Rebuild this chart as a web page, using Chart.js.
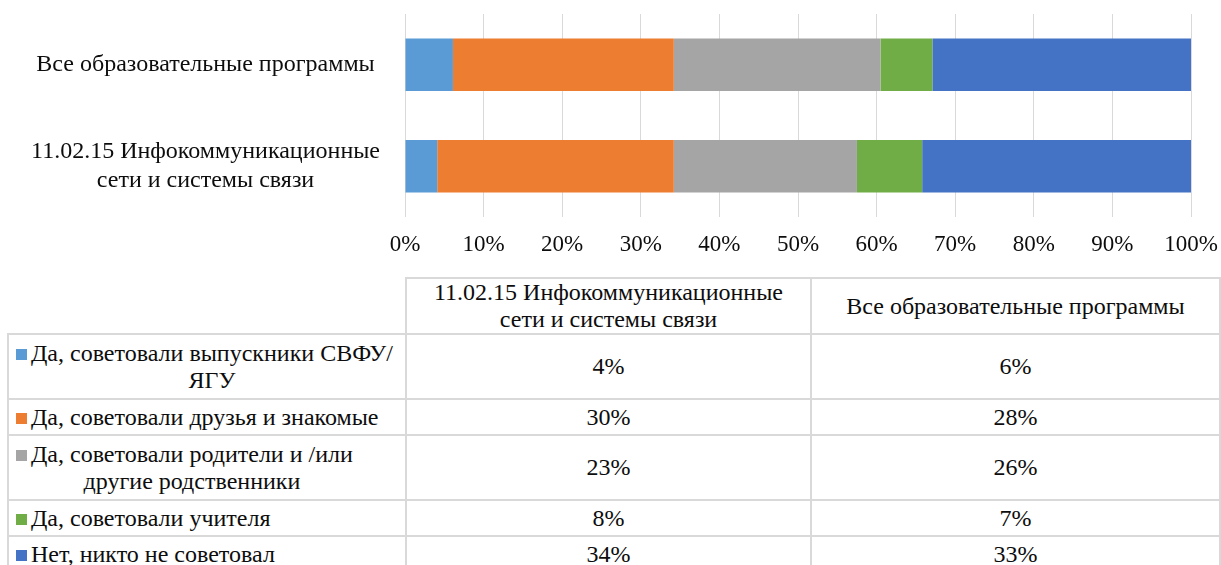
<!DOCTYPE html>
<html>
<head>
<meta charset="utf-8">
<script src="https://cdn.jsdelivr.net/npm/chart.js@4"></script>
<style>
  body { margin: 0; background: #fff; }
  #wrap { position: relative; width: 1221px; height: 565px; overflow: hidden; }
  #chart { position: absolute; left: 0; top: 0; }
  #tbl { position: absolute; left: 7px; top: 277px; width: 1212px; border-collapse: collapse;
         table-layout: fixed; font-family: "Liberation Serif", "Times New Roman", Tinos, "DejaVu Serif", serif;
         font-size: 24px; color: #0d0d0d; }
  #tbl td { border: 2px solid #d9d9d9; text-align: center; vertical-align: middle; padding: 0; line-height: 27px; }
  #tbl td.blank { border-top: none; border-left: none; }
  #tbl td.lab { text-align: left; padding-left: 7px; white-space: nowrap; }
  .key { display: inline-block; width: 11px; height: 11px; vertical-align: top; margin-top: 9px; margin-right: 4px; }
  .txt { display: inline-block; text-align: center; vertical-align: top; }
</style>
</head>
<body>
<div id="wrap">
  <canvas id="chart" width="1221" height="270"></canvas>
  <table id="tbl"></table>
</div>
<script>
var serif = '"Liberation Serif", "Times New Roman", Tinos, "DejaVu Serif", serif';

// categories in data-table order (chart shows them reversed)
var categories = [
	['11.02.15 Инфокоммуникационные', 'сети и системы связи'],
	['Все образовательные программы']
];
var seriesNames = [
	'Да, советовали выпускники СВФУ/\nЯГУ',
	'Да, советовали друзья и знакомые',
	'Да, советовали родители и /или\nдругие родственники',
	'Да, советовали учителя',
	'Нет, никто не советовал'
];
var colors = ['#5B9BD5', '#ED7D31', '#A5A5A5', '#70AD47', '#4472C4'];

// share of answers, % : [11.02.15, все программы]
var graduates = [4.1, 6.1];
var friends = [30.1, 28.1];
var parents = [23.3, 26.3];
var teachers = [8.3, 6.6];
var nobody = [34.2, 32.9];
var seriesValues = [graduates, friends, parents, teachers, nobody];

var xTicks = [0, 10, 20, 30, 40, 50, 60, 70, 80, 90, 100];

buildTable();
draw();

function draw() {
	var ctx = document.getElementById('chart').getContext('2d');
	var datasets = seriesNames.map(function(name, i) {
		return {
			label: name,
			backgroundColor: colors[i],
			data: seriesValues[i],
			barPercentage: 0.515,
			categoryPercentage: 1
		};
	});

	new Chart(ctx, {
		type: 'bar',
		data: {
			labels: categories,
			datasets: datasets
		},
		options: {
			indexAxis: 'y',
			responsive: false,
			animation: false,
			layout: { padding: { top: 14, right: 30, left: 0, bottom: 0 } },
			plugins: { legend: { display: false }, tooltip: { enabled: false } },
			scales: {
				x: {
					stacked: true,
					min: 0,
					max: 100,
					afterBuildTicks: function(scale) {
						scale.ticks = xTicks.map(function(v) { return { value: v }; });
					},
					afterFit: function(scale) {
						scale.height = 53;
						scale.paddingLeft = 0;
						scale.paddingRight = 0;
					},
					border: { display: false },
					grid: { color: '#d9d9d9', lineWidth: 1, drawTicks: false },
					ticks: {
						padding: 14,
						color: '#0d0d0d',
						font: { family: serif, size: 23 },
						callback: function(v) { return v + '%'; }
					}
				},
				y: {
					stacked: true,
					reverse: true,
					afterFit: function(scale) {
						scale.width = 405;
						scale.paddingTop = 0;
						scale.paddingBottom = 0;
					},
					border: { display: false },
					grid: { display: false },
					ticks: {
						padding: 17,
						crossAlign: 'center',
						color: '#0d0d0d',
						font: { family: serif, size: 24, lineHeight: 1.2 }
					}
				}
			}
		}
	});
}

function buildTable() {
	var tbl = document.getElementById('tbl');
	var html = '<colgroup><col style="width:398px"><col style="width:405px"><col style="width:409px"></colgroup>';
	html += '<tr style="height:55px"><td class="blank"></td>';
	categories.forEach(function(c) { html += '<td>' + c.join('<br>') + '</td>'; });
	html += '</tr>';
	seriesNames.forEach(function(name, i) {
		var twoLines = name.indexOf('\n') >= 0;
		html += '<tr style="height:' + (twoLines ? 65 : 36) + 'px">';
		html += '<td class="lab"><span class="key" style="background:' + colors[i] + '"></span>' +
			'<span class="txt">' + name.replace('\n', '<br>') + '</span></td>';
		seriesValues[i].forEach(function(v) { html += '<td>' + Math.round(v) + '%</td>'; });
		html += '</tr>';
	});
	tbl.innerHTML = html;
}
</script>
</body>
</html>
